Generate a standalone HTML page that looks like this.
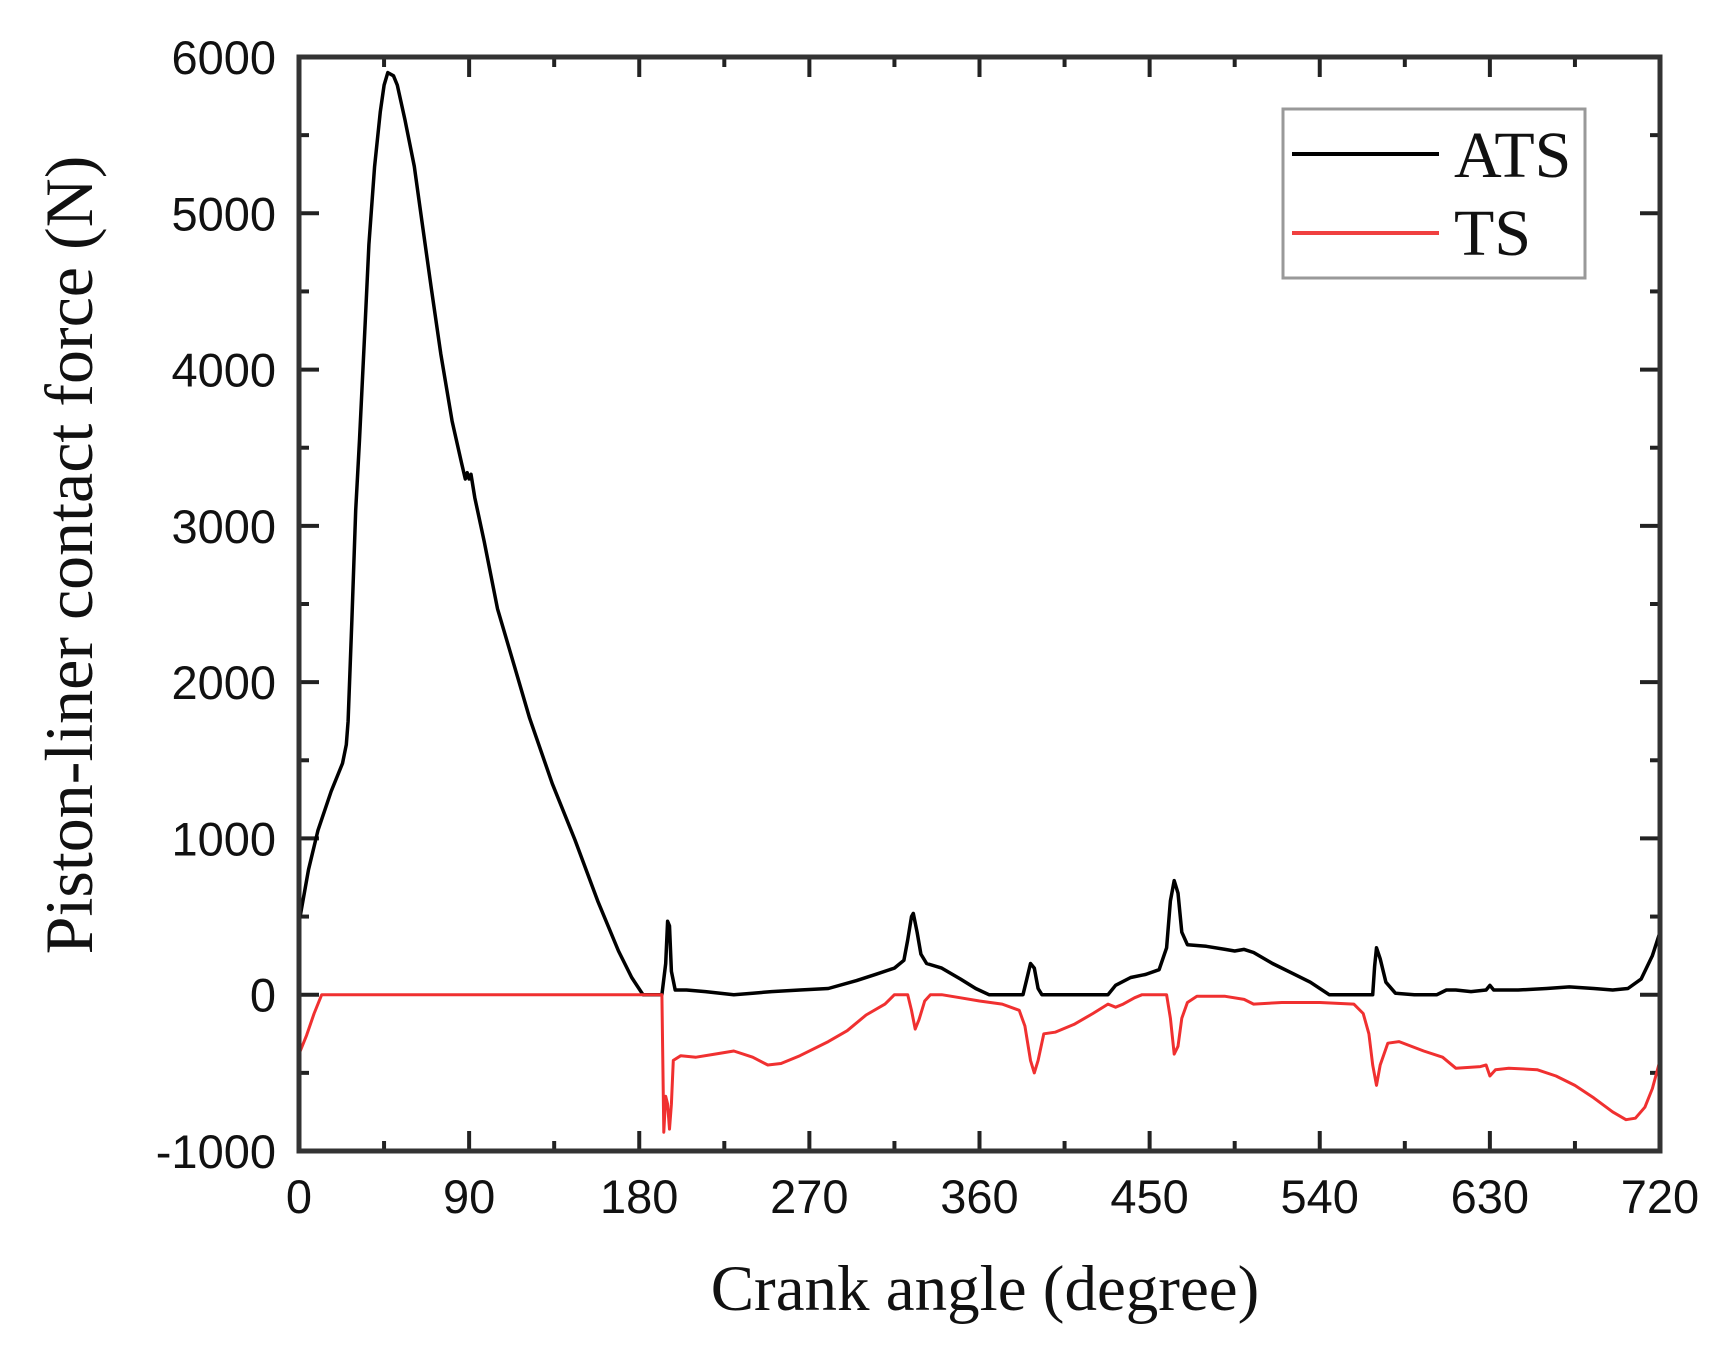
<!DOCTYPE html>
<html><head><meta charset="utf-8"><style>
html,body{margin:0;padding:0;background:#fff;}
svg{display:block;}
.tl{font-family:"Liberation Sans",Arial,sans-serif;font-size:47px;fill:#111;}
.tt{font-family:"Liberation Serif","Times New Roman",serif;fill:#111;}
</style></head><body>
<svg id="s" width="1732" height="1346" viewBox="0 0 1732 1346" xmlns="http://www.w3.org/2000/svg">
<g id="ticks" stroke="#222" stroke-width="4"></g>
<path id="ats" fill="none" stroke="#000" stroke-width="3.5" stroke-linejoin="round"/>
<path id="ts" fill="none" stroke="#f03030" stroke-width="3" stroke-linejoin="round"/>
<rect x="299" y="57" width="1361" height="1094" fill="none" stroke="#333" stroke-width="5"/>
<g id="labels"></g>
<rect x="1283" y="109" width="302" height="169" fill="#fff" stroke="#999" stroke-width="3"/>
<line x1="1292" y1="154" x2="1439" y2="154" stroke="#000" stroke-width="4"/>
<line x1="1292" y1="233" x2="1439" y2="233" stroke="#f04040" stroke-width="4"/>
<text class="tt" x="1454" y="177" font-size="66">ATS</text>
<text class="tt" x="1454" y="255" font-size="66">TS</text>
<text class="tt" x="985" y="1310" font-size="65" text-anchor="middle">Crank angle (degree)</text>
<text class="tt" font-size="68" text-anchor="middle" transform="translate(92,555) rotate(-90)">Piston-liner contact force (N)</text>
</svg>
<script>
var L=299,R=1660,T=57,B=1151;
function X(d){return L+d*(R-L)/720;}
function Y(n){return B-(n+1000)*(B-T)/7000;}
var ns="http://www.w3.org/2000/svg";
var tk=document.getElementById('ticks'),lb=document.getElementById('labels');
function ln(a,b,c,d){var e=document.createElementNS(ns,'line');e.setAttribute('x1',a);e.setAttribute('y1',b);e.setAttribute('x2',c);e.setAttribute('y2',d);tk.appendChild(e);}
function tx(x,y,s,a){var e=document.createElementNS(ns,'text');e.setAttribute('x',x);e.setAttribute('y',y);e.setAttribute('class','tl');e.setAttribute('text-anchor',a);e.textContent=s;lb.appendChild(e);}
for(var d=0;d<=720;d+=45){var x=X(d),m=(d%90==0)?20:10;ln(x,B,x,B-m);ln(x,T,x,T+m);if(d%90==0)tx(x,1213,String(d),'middle');}
for(var n=-1000;n<=6000;n+=500){var y=Y(n),m=(n%1000==0)?20:10;ln(L,y,L+m,y);ln(R,y,R-m,y);if(n%1000==0)tx(276,y+17,String(n),'end');}
function P(a){return a.map(function(p,i){return (i?'L':'M')+X(p[0]).toFixed(1)+' '+Y(p[1]).toFixed(1);}).join(' ');}
var ats=[[0,460],[5,800],[10,1050],[17,1300],[23,1480],[25,1600],[26,1750],[28,2400],[30,3100],[32,3550],[35,4300],[37,4800],[40,5300],[43,5650],[45,5820],[47,5900],[50,5880],[52,5820],[56,5600],[61,5300],[65,4950],[70,4520],[75,4100],[81,3670],[86,3400],[88,3300],[89,3340],[90,3300],[91,3330],[93,3180],[98,2900],[105,2470],[114,2100],[122,1770],[134,1350],[146,990],[158,600],[169,280],[176,110],[182,0],[192,0],[194,200],[195,470],[196,440],[197,150],[199,30],[205,30],[215,20],[230,0],[240,10],[250,20],[265,30],[280,40],[295,90],[305,130],[315,170],[320,220],[322,350],[324,500],[325,520],[327,400],[329,260],[332,200],[340,170],[350,100],[358,40],[365,0],[383,0],[385,100],[387,200],[389,170],[391,40],[393,0],[428,0],[432,60],[440,110],[448,130],[455,160],[459,300],[461,600],[463,730],[465,650],[467,400],[470,320],[480,310],[490,290],[495,280],[500,290],[505,270],[515,200],[525,140],[535,80],[545,0],[557,0],[568,0],[569,180],[570,300],[572,230],[575,80],[580,10],[590,0],[602,0],[607,30],[612,30],[620,20],[628,30],[630,60],[632,30],[645,30],[660,40],[672,50],[685,40],[695,30],[703,40],[710,100],[716,250],[720,400]];
var ts=[[0,-380],[4,-260],[8,-120],[12,0],[192,0],[193,-880],[194,-650],[195,-700],[196,-860],[197,-700],[198,-420],[202,-390],[210,-400],[220,-380],[230,-360],[240,-400],[248,-450],[255,-440],[265,-390],[280,-300],[290,-230],[300,-130],[310,-60],[315,0],[322,0],[324,-100],[326,-220],[328,-160],[331,-40],[334,0],[340,0],[350,-20],[360,-40],[372,-60],[381,-100],[384,-200],[387,-420],[389,-500],[391,-420],[394,-250],[400,-240],[410,-190],[420,-120],[428,-60],[432,-80],[436,-60],[442,-20],[446,0],[459,0],[461,-150],[463,-380],[465,-330],[467,-150],[470,-50],[475,-10],[490,-10],[500,-30],[505,-60],[520,-50],[540,-50],[558,-60],[563,-120],[566,-250],[568,-450],[570,-580],[572,-450],[576,-310],[582,-300],[595,-360],[605,-400],[612,-470],[625,-460],[628,-450],[630,-520],[633,-480],[640,-470],[655,-480],[665,-520],[675,-580],[685,-660],[695,-750],[702,-800],[707,-790],[712,-720],[716,-600],[720,-420]];
document.getElementById('ats').setAttribute('d',P(ats));
document.getElementById('ts').setAttribute('d',P(ts));
</script>
</body></html>
